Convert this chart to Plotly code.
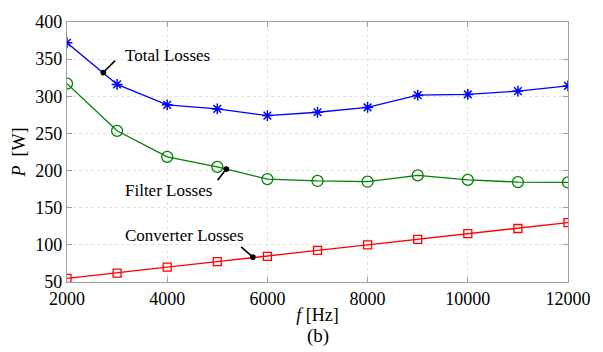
import plotly.graph_objects as go

freq = [2000, 3000, 4000, 5000, 6000, 7000, 8000, 9000, 10000, 11000, 12000]
total_losses = [372, 316, 288.5, 283, 274, 278.5, 285, 301.5, 302.5, 307, 314]
filter_losses = [317, 253.5, 218.5, 205, 188.5, 186, 185, 193.5, 187.5, 184.5, 184]
converter_losses = [55, 62, 70, 77.5, 84.5, 92.5, 100, 107.5, 115, 122, 130]

x_ticks = [2000, 4000, 6000, 8000, 10000, 12000]
x_tick_labels = ["2000", "4000", "6000", "8000", "10000", "12000"]
y_ticks = [50, 100, 150, 200, 250, 300, 350, 400]
y_tick_labels = ["50", "100", "150", "200", "250", "300", "350", "400"]

# annotation labels: (text, point x, point y, tail x, tail y, text x, text y)
labels = [
    ("Total Losses", 2725, 332, 2990, 350, 3116, 355),
    ("Filter Losses", 5180, 202, 4982, 185, 3116, 173),
    ("Converter Losses", 5710, 83.5, 5446, 99, 3116, 113),
]

FONT = "Liberation Serif"

fig = go.Figure()
fig.add_trace(go.Scatter(x=freq, y=total_losses, mode="lines+markers",
                         line=dict(color="#0000ff", width=1.3),
                         marker=dict(symbol="asterisk-open", size=9,
                                     line=dict(color="#0000ff", width=1.5))))
fig.add_trace(go.Scatter(x=freq, y=filter_losses, mode="lines+markers",
                         line=dict(color="#008000", width=1.3),
                         marker=dict(symbol="circle-open", size=11,
                                     line=dict(color="#008000", width=1.3))))
fig.add_trace(go.Scatter(x=freq, y=converter_losses, mode="lines+markers",
                         line=dict(color="#ff0000", width=1.3),
                         marker=dict(symbol="square-open", size=8,
                                     line=dict(color="#ff0000", width=1.3))))

annots = []
for text, px, py, tx, ty, lx, ly in labels:
    annots.append(dict(x=px, y=py, ax=tx, ay=ty, xref="x", yref="y",
                       axref="x", ayref="y", text="", showarrow=True,
                       arrowhead=6, arrowsize=0.9, arrowwidth=1.6,
                       arrowcolor="black"))
    annots.append(dict(x=lx, y=ly, xref="x", yref="y", text=text,
                       showarrow=False, xanchor="left", yanchor="middle",
                       font=dict(family=FONT, size=17, color="black")))
annots.append(dict(x=0.5, y=-0.207, xref="paper", yref="paper",
                   text="(b)", showarrow=False, xanchor="center", yanchor="middle",
                   font=dict(family=FONT, size=19, color="black")))

axis_common = dict(showline=True, linecolor="#a0a0a0", linewidth=1.2, mirror="ticks",
                   ticks="inside", ticklen=5, tickcolor="#a0a0a0",
                   showgrid=True, gridcolor="#e2e2e2", griddash="dot", gridwidth=1,
                   zeroline=False,
                   tickfont=dict(family=FONT, size=18, color="black"))

fig.update_layout(
    width=603, height=352,
    margin=dict(l=67, r=34, t=13, b=70),
    plot_bgcolor="white", paper_bgcolor="white",
    showlegend=False,
    font=dict(family=FONT, color="black", size=18),
    annotations=annots,
    xaxis=dict(range=[2000, 12000], tickvals=x_ticks, ticktext=x_tick_labels,
               title=dict(text="<i>f</i> [Hz]", standoff=0,
                          font=dict(family=FONT, size=18, color="black")),
               **axis_common),
    yaxis=dict(range=[50, 400], tickvals=y_ticks, ticktext=y_tick_labels,
               title=dict(text="<i>P</i>  [W]", standoff=4,
                          font=dict(family=FONT, size=18, color="black")),
               **axis_common),
)

fig.write_html("out.html")
